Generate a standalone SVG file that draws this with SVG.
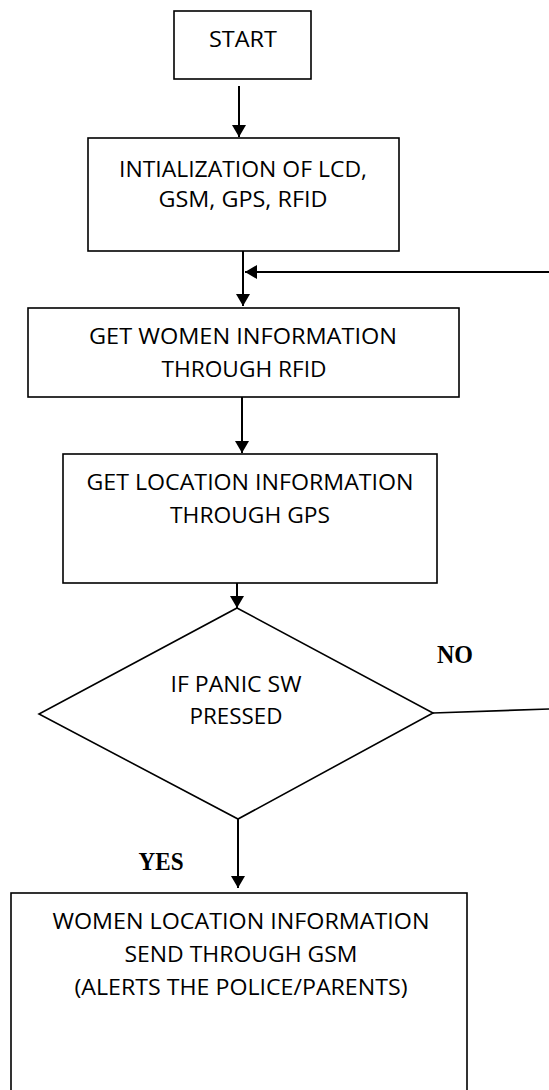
<svg xmlns="http://www.w3.org/2000/svg" width="549" height="1090" viewBox="0 0 549 1090">
<style>
.box{fill:#fff;stroke:#000;stroke-width:1.6}
.t{font-family:"Open Sans",Lato,"Liberation Sans",sans-serif;font-size:22.5px;fill:#000;text-anchor:middle}
.lbl{font-family:"Liberation Serif","DejaVu Serif",serif;font-size:25px;font-weight:bold;fill:#000;text-anchor:middle}
.c{fill:none;stroke:#000;stroke-width:2}
.thin{fill:none;stroke:#000;stroke-width:1.6}
</style>
<defs>
<marker id="ah" viewBox="0 0 12 14" refX="12" refY="7" markerWidth="12" markerHeight="14" markerUnits="userSpaceOnUse" orient="auto">
<path d="M0,0 L12,7 L0,14 Z" fill="#000"/>
</marker>
</defs>
<rect width="549" height="1090" fill="#fff"/>
<g id="start">
<rect class="box" x="174" y="11" width="137" height="68"/>
<text class="t" x="243" y="47" textLength="68" lengthAdjust="spacingAndGlyphs">START</text>
</g>
<g id="init">
<rect class="box" x="88" y="138" width="311" height="113"/>
<text class="t" x="243" y="177" textLength="248" lengthAdjust="spacingAndGlyphs">INTIALIZATION OF LCD,</text>
<text class="t" x="243" y="207" textLength="169" lengthAdjust="spacingAndGlyphs">GSM, GPS, RFID</text>
</g>
<g id="rfid">
<rect class="box" x="28" y="308" width="431" height="89"/>
<text class="t" x="243" y="344" textLength="308" lengthAdjust="spacingAndGlyphs">GET WOMEN INFORMATION</text>
<text class="t" x="244" y="377" textLength="165" lengthAdjust="spacingAndGlyphs">THROUGH RFID</text>
</g>
<g id="gps">
<rect class="box" x="63" y="454" width="374" height="129"/>
<text class="t" x="250" y="490" textLength="327" lengthAdjust="spacingAndGlyphs">GET LOCATION INFORMATION</text>
<text class="t" x="250" y="523" textLength="160" lengthAdjust="spacingAndGlyphs">THROUGH GPS</text>
</g>
<g id="decision">
<polygon class="box" points="237,608 433,713 238,819 39,714"/>
<text class="t" x="236" y="692" textLength="131" lengthAdjust="spacingAndGlyphs">IF PANIC SW</text>
<text class="t" x="236" y="724" textLength="93" lengthAdjust="spacingAndGlyphs">PRESSED</text>
</g>
<g id="send">
<rect class="box" x="11" y="893" width="456" height="205"/>
<text class="t" x="241" y="929" textLength="377" lengthAdjust="spacingAndGlyphs">WOMEN LOCATION INFORMATION</text>
<text class="t" x="241" y="962" textLength="233" lengthAdjust="spacingAndGlyphs">SEND THROUGH GSM</text>
<text class="t" x="241" y="995" textLength="333" lengthAdjust="spacingAndGlyphs">(ALERTS THE POLICE/PARENTS)</text>
</g>
<g id="connectors">
<line class="c" x1="239" y1="86" x2="239" y2="137" marker-end="url(#ah)"/>
<line class="c" x1="243" y1="251" x2="243" y2="306" marker-end="url(#ah)"/>
<line class="c" x1="549" y1="272" x2="245" y2="272" marker-end="url(#ah)"/>
<line class="c" x1="242" y1="397" x2="242" y2="453" marker-end="url(#ah)"/>
<line class="c" x1="237" y1="583" x2="237" y2="608" marker-end="url(#ah)"/>
<line class="thin" x1="433" y1="713" x2="549" y2="709"/>
<line class="c" x1="238" y1="819" x2="238" y2="888" marker-end="url(#ah)"/>
<text class="lbl" x="455" y="663" textLength="36" lengthAdjust="spacingAndGlyphs">NO</text>
<text class="lbl" x="161" y="870" textLength="45" lengthAdjust="spacingAndGlyphs">YES</text>
</g>
</svg>
